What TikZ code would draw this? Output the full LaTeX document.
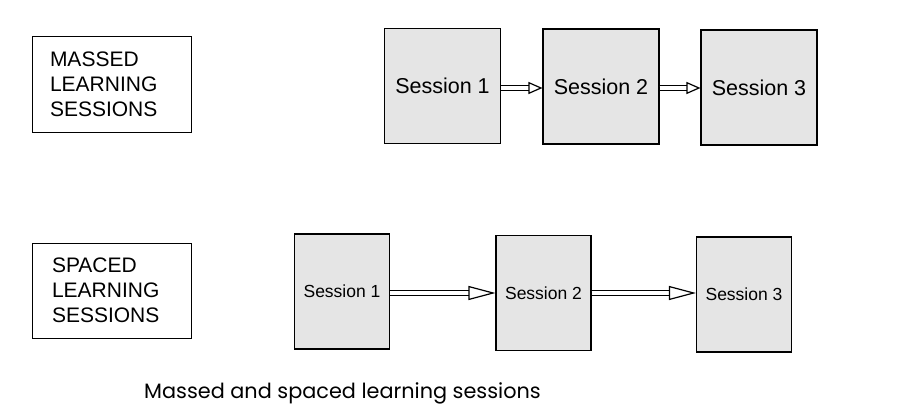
\documentclass[tikz,border=0pt]{standalone}
\usepackage{fontspec}
\setmainfont{Liberation Sans}
\newfontfamily\capfont{Poppins}
\usepackage{tikz}
\usetikzlibrary{arrows.meta}

\begin{document}
\begin{tikzpicture}[x=1pt, y=-1pt,
  labelbox/.style={draw, line width=1pt, text width=123pt, inner xsep=18pt, inner ysep=0pt,
    minimum height=95pt, align=left, font=\fontsize{21}{25}\selectfont},
  sessbox/.style={draw, line width=1.1pt, fill=gray!20, inner sep=0pt},
  bigsess/.style={sessbox, minimum width=116pt, minimum height=115pt, font=\fontsize{21.5}{24}\selectfont},
  smallsess/.style={sessbox, minimum width=95pt, minimum height=115pt, font=\fontsize{17.5}{20}\selectfont},
  shortarrow/.style={double, double distance=3.5pt, line width=1.2pt,
    -{Triangle[open, length=14pt, width=12pt, line width=1.2pt]}},
  longarrow/.style={double, double distance=4pt, line width=1.2pt,
    -{Triangle[open, length=27pt, width=14pt, line width=1.2pt]}}]

  \useasboundingbox (0,0) rectangle (917,417);

  % massed
  \node[labelbox] (massed) at (111.5,84.5) {MASSED\\LEARNING\\SESSIONS};
  \node[bigsess] (m1) at (442.5,86) {Session 1};
  \node[bigsess] (m2) at (601,86.5) {Session 2};
  \node[bigsess] (m3) at (759,87.5) {Session 3};

  \draw[shortarrow] (m1.east |- 0,88) -- (m2.west |- 0,88);
  \draw[shortarrow] (m2.east |- 0,88) -- (m3.west |- 0,88);

  % spaced
  \node[labelbox, inner xsep=20pt, text width=119pt] (spaced) at (111.5,290.5) {SPACED\\LEARNING\\SESSIONS};
  \node[smallsess] (s1) at (342,291.5) {Session 1};
  \node[smallsess] (s2) at (543.5,293) {Session 2};
  \node[smallsess] (s3) at (744,294.5) {Session 3};

  \draw[longarrow] (s1.east |- 0,293) -- (s2.west |- 0,293);
  \draw[longarrow] (s2.east |- 0,293) -- (s3.west |- 0,293);

  \node[font=\capfont\fontsize{20.8}{25}\selectfont, anchor=base] (caption) at (342.5,398)
    {Massed and spaced learning sessions};

\end{tikzpicture}
\end{document}
